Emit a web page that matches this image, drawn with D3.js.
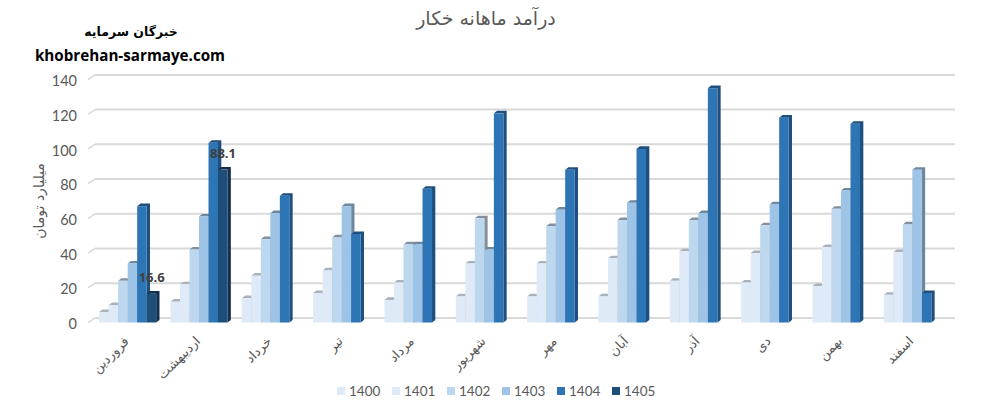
<!DOCTYPE html>
<html>
<head>
<meta charset="utf-8">
<script src="https://cdn.jsdelivr.net/npm/d3@7"></script>
<style>
  html, body { margin: 0; padding: 0; background: #fff; }
  svg { display: block; }
</style>
</head>
<body>
<div id="chart"></div>
<script>
"use strict";

var months = ["فروردین", "اردیبهشت", "خرداد", "تیر", "مرداد", "شهریور", "مهر", "آبان", "آذر", "دی", "بهمن", "اسفند"];
var years = ["1400", "1401", "1402", "1403", "1404", "1405"];

var values1400 = [6, 12, 14, 17, 13, 15, 15, 15, 24, 23, 21, 16];
var values1401 = [10, 22, 27, 30, 23, 34, 34, 37, 41, 40, 43.5, 40.5];
var values1402 = [24, 42, 48, 49, 45, 60, 55.5, 59, 59, 56, 65.5, 56.5];
var values1403 = [34, 61, 63, 67, 45, 42, 65, 69, 63, 68, 76, 88];
var values1404 = [67, 103.5, 73, 51, 77, 120.5, 88, 100, 135, 118, 114.5, 17];
var values1405 = [16.6, 88.1, null, null, null, null, null, null, null, null, null, null];

var yTicks = [0, 20, 40, 60, 80, 100, 120, 140];

var allValues = [values1400, values1401, values1402, values1403, values1404, values1405];

// set params
var width = 987;
var height = 412;
var depthX = 3.3;
var depthY = 2.6;
var wallX = 7;
var wallY = 4.6;
var frontColors = ["#dfeaf8", "#dfeaf8", "#bdd7ee", "#9dc3e6", "#2e75b6", "#1f4e79"];
var sideColors = ["#a9b1ba", "#a9b1ba", "#83909f", "#6d879f", "#1f4f7e", "#142f4c"];
var gridColor = "#d9d9d9";
var textColor = "#595959";

var svg = d3.select("#chart")
  .append("svg")
  .attr("width", width)
  .attr("height", height);

var x = d3.scaleBand()
  .domain(months)
  .range([92, 948])
  .paddingInner(0.2)
  .paddingOuter(0.1);

var xInner = d3.scaleBand()
  .domain(years)
  .range([0, x.bandwidth()]);

var y = d3.scaleLinear()
  .domain([0, 140])
  .range([322.5, 79.5]);

// back wall gridlines and the short diagonals on the side wall
var grid = svg.append("g").attr("class", "grid");
grid.selectAll("line.back")
  .data(yTicks)
  .enter()
  .append("line")
    .attr("class", "back")
    .attr("x1", 88 + wallX)
    .attr("x2", 955)
    .attr("y1", function(d) { return y(d) - wallY; })
    .attr("y2", function(d) { return y(d) - wallY; })
    .attr("stroke", gridColor)
    .attr("stroke-width", 2);
grid.selectAll("line.side")
  .data(yTicks)
  .enter()
  .append("line")
    .attr("class", "side")
    .attr("x1", 88)
    .attr("x2", 88 + wallX)
    .attr("y1", function(d) { return y(d); })
    .attr("y2", function(d) { return y(d) - wallY; })
    .attr("stroke", gridColor)
    .attr("stroke-width", 1.5);

// y axis labels
var yAxis = svg.append("g")
  .attr("transform", "translate(81,1.5)")
  .call(d3.axisLeft(y).tickValues(yTicks).tickSize(0).tickPadding(4));
yAxis.select(".domain").remove();
yAxis.selectAll("text")
  .attr("font-family", "Lato, 'Open Sans', sans-serif")
  .attr("font-size", 14.5)
  .attr("fill", textColor);

// flatten the series into bars, left to right so that later fronts hide earlier sides
var bars = [];
months.forEach(function(month, i) {
  years.forEach(function(year, j) {
    if (allValues[j][i] !== null) {
      bars.push({month: month, year: year, index: j, value: allValues[j][i]});
    }
  });
});

function poly(points) {
  var path = d3.path();
  points.forEach(function(p, i) {
    if (i === 0) {
      path.moveTo(p[0], p[1]);
    } else {
      path.lineTo(p[0], p[1]);
    }
  });
  path.closePath();
  return path.toString();
}

var barGroups = svg.append("g")
  .attr("class", "bars")
  .selectAll("g")
  .data(bars)
  .enter()
  .append("g");

barGroups.append("path")
  .attr("fill", function(d) { return sideColors[d.index]; })
  .attr("d", function(d) {
    var x0 = x(d.month) + xInner(d.year);
    var x1 = x0 + xInner.bandwidth();
    return poly([
      [x0, y(d.value)],
      [x0 + depthX, y(d.value) - depthY],
      [x1 + depthX, y(d.value) - depthY],
      [x1 + depthX, y(0) - depthY],
      [x1, y(0)],
      [x1, y(d.value)]
    ]);
  });

barGroups.append("rect")
  .attr("x", function(d) { return x(d.month) + xInner(d.year); })
  .attr("y", function(d) { return y(d.value); })
  .attr("width", xInner.bandwidth())
  .attr("height", function(d) { return y(0) - y(d.value); })
  .attr("fill", function(d) { return frontColors[d.index]; });

// data labels for the newest year
svg.append("g")
  .selectAll("text")
  .data(bars.filter(function(d) { return d.year === "1405"; }))
  .enter()
  .append("text")
    .attr("x", function(d) { return x(d.month) + xInner(d.year) + 5; })
    .attr("y", function(d) { return y(d.value) - 11.5; })
    .attr("text-anchor", "middle")
    .attr("font-family", "'Open Sans', sans-serif")
    .attr("font-weight", "bold")
    .attr("font-size", 13)
    .attr("fill", "#404040")
    .text(function(d) { return d.value; });

// category labels
svg.append("g")
  .selectAll("text")
  .data(months)
  .enter()
  .append("text")
    .attr("transform", function(d) {
      return "translate(" + (x(d) + x.bandwidth() / 2 + 2) + ",342) rotate(-45)";
    })
    .attr("text-anchor", "end")
    .attr("font-family", "'DejaVu Sans', sans-serif")
    .attr("font-size", 13)
    .attr("fill", textColor)
    .text(function(d) { return d; });

// legend
var legendX = d3.scalePoint()
  .domain(years)
  .range([337, 612]);

var legend = svg.append("g")
  .selectAll("g")
  .data(years)
  .enter()
  .append("g")
    .attr("transform", function(d) { return "translate(" + legendX(d) + ",387)"; });
legend.append("rect")
  .attr("width", 8)
  .attr("height", 8)
  .attr("fill", function(d, i) { return frontColors[i]; });
legend.append("text")
  .attr("x", 12)
  .attr("y", 8.5)
  .attr("font-family", "Lato, 'Open Sans', sans-serif")
  .attr("font-size", 13.5)
  .attr("fill", textColor)
  .text(function(d) { return d; });

// titles
svg.append("text")
  .attr("x", 486)
  .attr("y", 25)
  .attr("text-anchor", "middle")
  .attr("font-family", "'DejaVu Sans', sans-serif")
  .attr("font-size", 19)
  .attr("fill", textColor)
  .text("درآمد ماهانه خکار");

svg.append("text")
  .attr("transform", "translate(44,201) rotate(-90)")
  .attr("text-anchor", "middle")
  .attr("font-family", "'DejaVu Sans', sans-serif")
  .attr("font-size", 14)
  .attr("fill", textColor)
  .text("میلیارد تومان");

svg.append("text")
  .attr("x", 131)
  .attr("y", 36)
  .attr("text-anchor", "middle")
  .attr("font-family", "'DejaVu Sans', sans-serif")
  .attr("font-weight", "bold")
  .attr("font-size", 12.5)
  .attr("fill", "#000")
  .text("خبرگان سرمایه");

svg.append("text")
  .attr("x", 130)
  .attr("y", 61)
  .attr("text-anchor", "middle")
  .attr("font-family", "'Open Sans', sans-serif")
  .attr("font-weight", "bold")
  .attr("font-size", 15.2)
  .attr("fill", "#000")
  .text("khobrehan-sarmaye.com");
</script>
</body>
</html>
